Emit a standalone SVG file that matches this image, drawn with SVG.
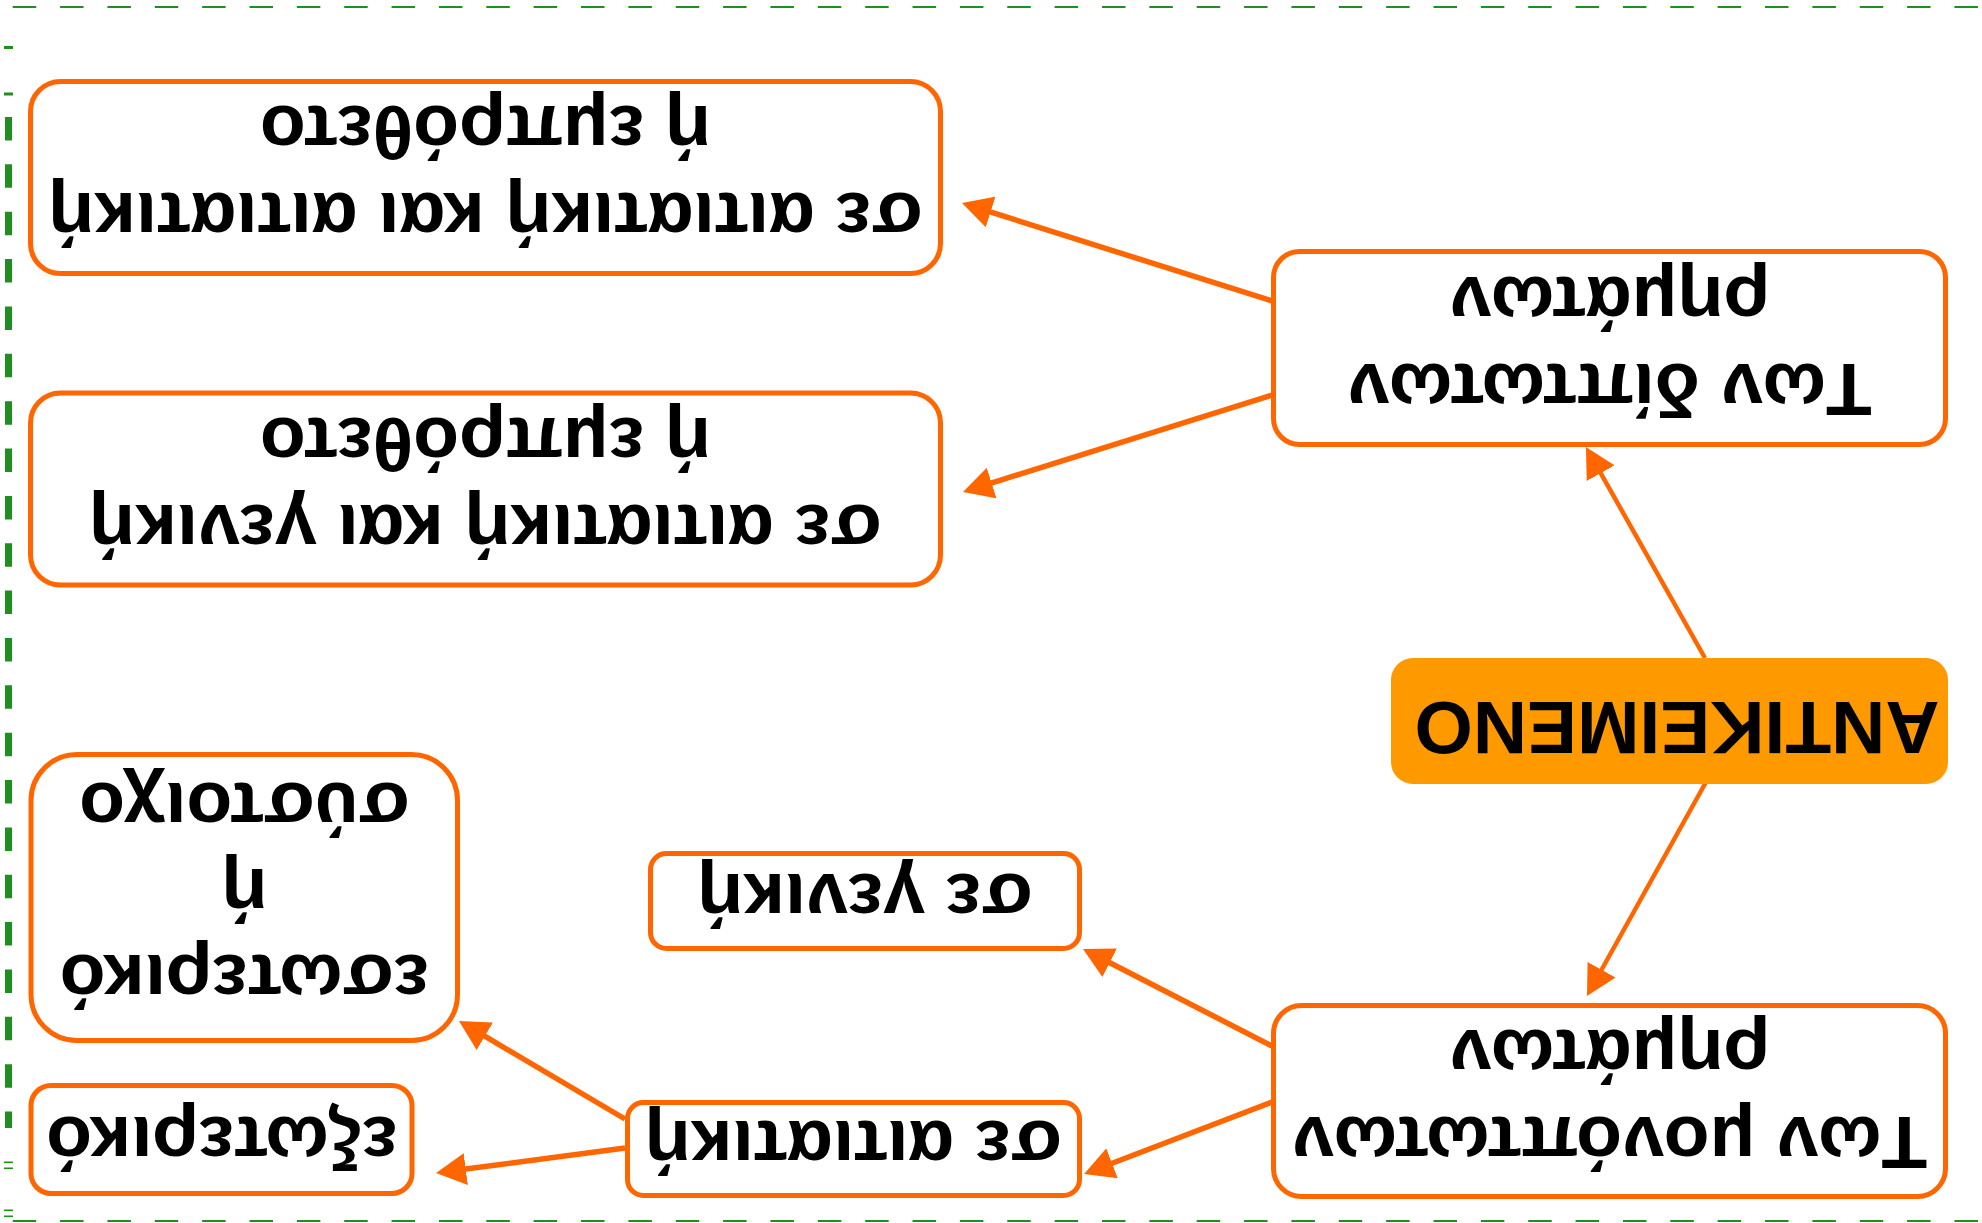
<svg xmlns="http://www.w3.org/2000/svg" width="1982" height="1223" viewBox="0 0 1982 1223">
<style>
.box{fill:#ffffff;stroke:#FF6600;stroke-width:5}
.root{fill:#FF9900;stroke:none}
.t{font-family:"Liberation Sans",Arial,sans-serif;font-weight:bold;font-size:75px;fill:#000000;text-anchor:middle}
.c{stroke:#FF6600;stroke-width:5.5;fill:none;marker-end:url(#ah)}
.c4{stroke-width:4.5}
.fr{stroke:#1f8f1f;fill:none;stroke-dasharray:23.5 23.86}
.mk{fill:#1f8f1f}
</style>
<defs>
<marker id="ah" markerUnits="userSpaceOnUse" viewBox="0 -16 30 32" markerWidth="30" markerHeight="32" refX="2" refY="0" orient="auto">
<path d="M0,-16 L30,0 L0,16 z" fill="#FF6600"/>
</marker>
</defs>
<g id="frame">
<line class="fr" x1="12.7" y1="7" x2="1982" y2="7" stroke-width="2"/>
<line class="fr" x1="12.7" y1="1221" x2="1982" y2="1221" stroke-width="2"/>
<line class="fr" x1="8.5" y1="117" x2="8.5" y2="1128" stroke-width="7" stroke="#0d800d"/>
<rect class="mk" x="4" y="46" width="9" height="3"/>
<rect class="mk" x="4" y="92.5" width="9" height="3"/>
<rect class="mk" x="4" y="1161.5" width="9" height="1.6"/>
<rect class="mk" x="4" y="1167.5" width="9" height="1.6"/>
<rect class="mk" x="4" y="1209.5" width="9" height="1.6"/>
<rect class="mk" x="4" y="1215.5" width="9" height="1.6"/>
</g>
<g transform="rotate(180 991 611.5)">
<g id="connectors">
<line class="c c4" x1="277" y1="565" x2="382.3" y2="751.6"/>
<line class="c c4" x1="276" y1="441" x2="381.4" y2="251.5"/>
<line class="c" x1="710" y1="922" x2="993.3" y2="1011.6"/>
<line class="c" x1="710" y1="828" x2="992.3" y2="739.4"/>
<line class="c" x1="710" y1="177" x2="874.1" y2="261.2"/>
<line class="c" x1="710" y1="121" x2="871.8" y2="59"/>
<line class="c" x1="1357" y1="104" x2="1498.9" y2="187.8"/>
<line class="c" x1="1357" y1="75" x2="1518.2" y2="53.7"/>
</g>
<g id="n-antikeimeno">
<rect class="root" x="34" y="439" width="557" height="126" rx="22"/>
<text class="t" x="305" y="521">ΑΝΤΙΚΕΙΜΕΝΟ</text>
</g>
<g id="n-diptota">
<rect class="box" x="36.5" y="778.5" width="672" height="193" rx="26"/>
<text class="t" x="372.5" y="859">Των δίπτωτων</text>
<text class="t" x="372.5" y="946">ρημάτων</text>
</g>
<g id="n-monoptota">
<rect class="box" x="36.5" y="26.5" width="672" height="191" rx="28"/>
<text class="t" x="372.5" y="106">Των μονόπτωτων</text>
<text class="t" x="372.5" y="193">ρημάτων</text>
</g>
<g id="n-ait-ait">
<rect class="box" x="1041.5" y="949.5" width="910" height="192" rx="30"/>
<text class="t" x="1496.5" y="1030">σε αιτιατική και αιτιατική</text>
<text class="t" x="1496.5" y="1117">ή εμπρόθετο</text>
</g>
<g id="n-ait-gen">
<rect class="box" x="1041.5" y="638" width="910" height="192" rx="30"/>
<text class="t" x="1496.5" y="718.5">σε αιτιατική και γενική</text>
<text class="t" x="1496.5" y="805.5">ή εμπρόθετο</text>
</g>
<g id="n-geniki">
<rect class="box" x="902.5" y="274.5" width="429" height="95" rx="16"/>
<text class="t" x="1117" y="349">σε γενική</text>
</g>
<g id="n-aitiatiki">
<rect class="box" x="902.5" y="27.5" width="452" height="93" rx="16"/>
<text class="t" x="1128.5" y="102">σε αιτιατική</text>
</g>
<g id="n-esoteriko">
<rect class="box" x="1524.5" y="182.5" width="426.5" height="286" rx="46"/>
<text class="t" x="1737.5" y="268">εσωτερικό</text>
<text class="t" x="1737.5" y="354">ή</text>
<text class="t" x="1737.5" y="440">σύστοιχο</text>
</g>
<g id="n-exoteriko">
<rect class="box" x="1570" y="29.5" width="381" height="108" rx="20"/>
<text class="t" x="1760" y="106">εξωτερικό</text>
</g>
</g>
</svg>
